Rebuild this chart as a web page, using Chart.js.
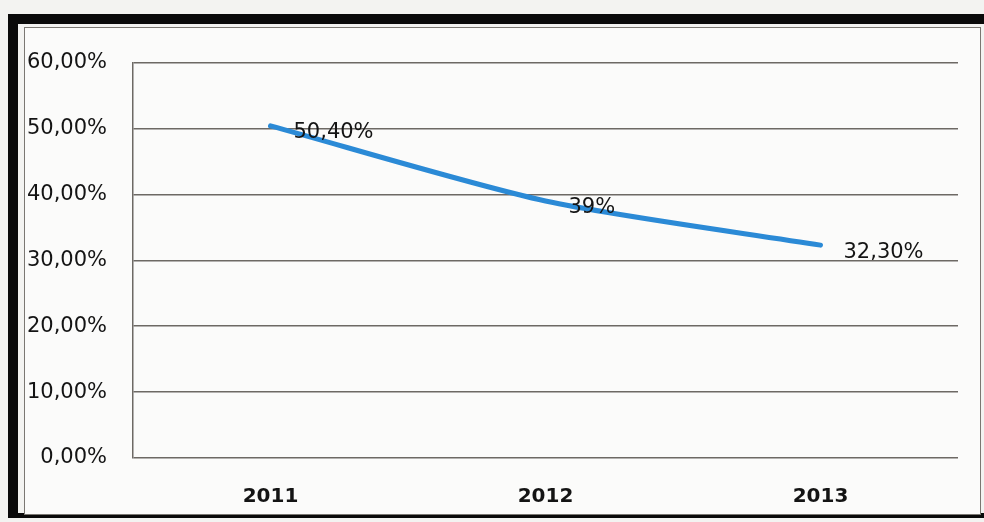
<!DOCTYPE html>
<html>
<head>
<meta charset="utf-8">
<script src="https://cdn.jsdelivr.net/npm/chart.js@4/dist/chart.umd.min.js"></script>
<style>
    html, body { margin: 0; padding: 0; }
    body { width: 984px; height: 522px; background: #f3f3f1; position: relative; overflow: hidden; }
    .frame-outer {
        position: absolute; left: 8px; top: 14px; width: 976px; height: 504px;
        border-top: 10px solid #0a0a0a; border-left: 10px solid #0a0a0a; border-bottom: 5px solid #0a0a0a;
        box-sizing: border-box;
    }
    .frame-inner {
        position: absolute; left: 24px; top: 27px; width: 957px; height: 488px;
        border: 1.5px solid #7a7772; background: #fbfbfa; box-sizing: border-box;
    }
    #chart { position: absolute; left: 25px; top: 24px; }
</style>
</head>
<body>
<div class="frame-outer"></div>
<div class="frame-inner"></div>
<canvas id="chart" width="955" height="490"></canvas>
<script>
// values
const years = ['2011', '2012', '2013'];
const rates = [50.4, 39, 32.3];
const rateLabels = ['50,40%', '39%', '32,30%'];

const pctTick = v => v.toFixed(2).replace('.', ',') + '%';

// draws the value next to each point, Excel "right" placement
const valueLabels = {
    id: 'valueLabels',
    afterDatasetsDraw(chart) {
        const ctx = chart.ctx;
        const meta = chart.getDatasetMeta(0);
        ctx.save();
        ctx.font = '21px "DejaVu Sans"';
        ctx.fillStyle = '#141414';
        ctx.textAlign = 'left';
        ctx.textBaseline = 'middle';
        meta.data.forEach((pt, i) => {
            ctx.fillText(rateLabels[i], pt.x + 23, pt.y + 7);
        });
        ctx.restore();
    },
};

new Chart(document.getElementById('chart'), {
    type: 'line',
    data: {
        labels: years,
        datasets: [{
            data: rates,
            borderColor: '#2b8ad6',
            borderWidth: 5,
            borderCapStyle: 'round',
            tension: 0.25,
            pointRadius: 0,
            fill: false,
        }],
    },
    options: {
        responsive: false, animation: false,
        layout: { padding: { top: 30, right: 22, bottom: 3, left: 0 } },
        plugins: { legend: { display: false }, tooltip: { enabled: false } },
        scales: {
            x: {
                offset: true,
                afterFit: s => { s.height = 53; },
                grid: { display: false, drawTicks: false },
                border: { display: false },
                ticks: { padding: 27, color: '#141414', font: { family: 'DejaVu Sans', size: 20, weight: 'bold' } },
            },
            y: {
                min: 0, max: 60,
                afterFit: s => { s.width = 108; },
                grid: { color: '#6d6964', lineWidth: 1.5, drawTicks: false },
                border: { display: true, color: '#6d6964', width: 1.5 },
                ticks: {
                    stepSize: 10, padding: 26, color: '#141414',
                    font: { family: 'DejaVu Sans', size: 21, weight: '500' },
                    callback: v => pctTick(v),
                },
            },
        },
    },
    plugins: [valueLabels],
});
</script>
</body>
</html>
